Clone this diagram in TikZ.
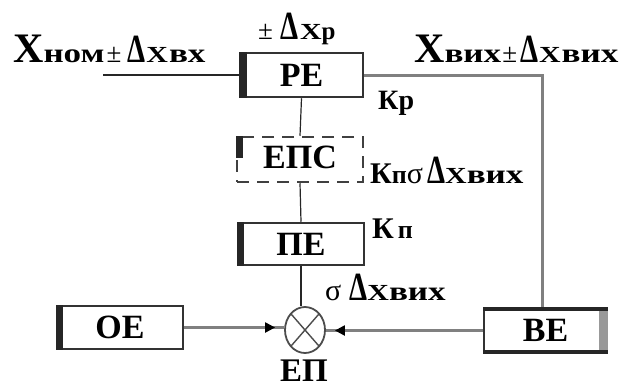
\documentclass[tikz,border=0pt]{standalone}
\usepackage{fontspec}
\setmainfont{Liberation Serif}
\newfontfamily\widefont[FakeStretch=1.3]{Liberation Serif}
\usetikzlibrary{shapes.geometric,arrows.meta,decorations.markings}
\newcommand\fsz[1]{\fontsize{#1}{#1}\selectfont}
\newcommand\subtx[1]{{\widefont\bfseries\fsz{27}#1}}
\newcommand\smX{{\widefont\bfseries\fsz{23}X}}
\newcommand\bigX{{\fsz{42}X}}
\newcommand\dlt{{\fsz{40}\scalebox{0.72}[1]{Δ}}}
\newcommand\pmm{{\fsz{27}\mdseries ±}}
\begin{document}
\begin{tikzpicture}[x=1pt,y=-1pt,
  blk/.style={draw=black!80, line width=2.5pt, fill=white, inner sep=0pt, font=\bfseries\fsz{34}},
  bar/.style={fill=black!85},
  lbl/.style={anchor=base west, inner sep=0pt, font=\bfseries},
  conn/.style={line width=1.6pt, draw=black!85},
  gconn/.style={line width=2.2pt, draw=black!50},
  tip/.style={postaction={decorate}, decoration={markings, mark=at position -9pt with {\arrow[black]{Triangle[length=10pt,width=10pt]}}}}]
\useasboundingbox (0,0) rectangle (623,388);
% blocks
\node[blk, minimum width=123pt, minimum height=44pt] (re) at (301.5,75) {РЕ};
\node[blk, dashed, dash pattern=on 12pt off 8pt, draw=black!75, minimum width=126pt, minimum height=45pt, text depth=4pt] (eps) at (300,159.5) {ЕПС};
\node[blk, minimum width=126pt, minimum height=42pt] (pe) at (301,244) {ПЕ};
\node[blk, minimum width=126pt, minimum height=43pt] (oe) at (120,327.5) {ОЕ};
\node[blk, minimum width=123pt, minimum height=45pt] (be) at (545.5,330.5) {ВЕ};
\node[ellipse, draw=black!70, line width=1.8pt, minimum width=40pt, minimum height=46pt, inner sep=0pt,
  path picture={\draw[black!70, line width=1.4pt] (path picture bounding box.north west) -- (path picture bounding box.south east)
                (path picture bounding box.north east) -- (path picture bounding box.south west);}] (ep) at (305,330) {};
% thick edges
\fill[bar] (re.north west) rectangle ([xshift=8pt]re.south west);
\fill[bar] (eps.north west) rectangle ([xshift=7pt,yshift=-22pt]eps.north west);
\fill[bar] (pe.north west) rectangle ([xshift=7pt]pe.south west);
\fill[bar] (oe.north west) rectangle ([xshift=7pt]oe.south west);
\fill[black!40] ([xshift=-9pt]be.north east) rectangle (be.south east);
\fill[bar] (be.north west) rectangle ([yshift=-4pt]be.north east);
\fill[bar] ([yshift=4pt]be.south west) rectangle (be.south east);
% connectors
\coordinate (inp) at (103,75);
\coordinate (c1) at (542,75);
\draw[conn, line width=2pt] (inp) -- (re.west);
\draw[gconn, line width=3pt] (re.east) -- (c1) -- (c1 |- be.north);
\draw[conn, line width=1.2pt] (re.south) -- (eps.north);
\draw[conn, line width=1.2pt] (eps.south) -- (pe.north);
\draw[conn, line width=1.2pt] (pe.south) -- (pe.south |- ep.north);
\draw[gconn, tip] (oe.east) -- (oe.east -| ep.west);
\draw[gconn, tip] (be.west) -- (be.west -| ep.east);
% labels
\node[lbl] (lin) at (13,62) {\bigX\subtx{ном}\hspace{2pt}\pmm\hspace{6pt}\dlt\hspace{1pt}\smX\hspace{1pt}\subtx{вх}};
\node[lbl] (lre) at (258,39) {\pmm\hspace{7pt}\dlt\hspace{2pt}\smX{\fsz{25}р}};
\node[lbl] (lout) at (414,62) {\bigX\subtx{вих}\hspace{1pt}\pmm\hspace{3pt}\dlt\hspace{1pt}\smX\hspace{1pt}\subtx{вих}};
\node[lbl] (kr) at (378,109) {\fsz{28}Кр};
\node[lbl] (keps) at (370,183) {{\fsz{30}К}{\fsz{26}п}{\fsz{30}\mdseries σ}\hspace{4pt}\dlt\smX\subtx{вих}};
\node[lbl] (kp) at (372,238) {{\fsz{30}К}\hspace{4pt}{\fsz{26}п}};
\node[lbl] (sg) at (325,300) {{\fsz{30}\mdseries σ}\hspace{8pt}\dlt\smX\subtx{вих}};
\node[font=\bfseries\fsz{33}, anchor=base, inner sep=0pt] (epl) at (304,381) {ЕП};
\end{tikzpicture}
\end{document}
